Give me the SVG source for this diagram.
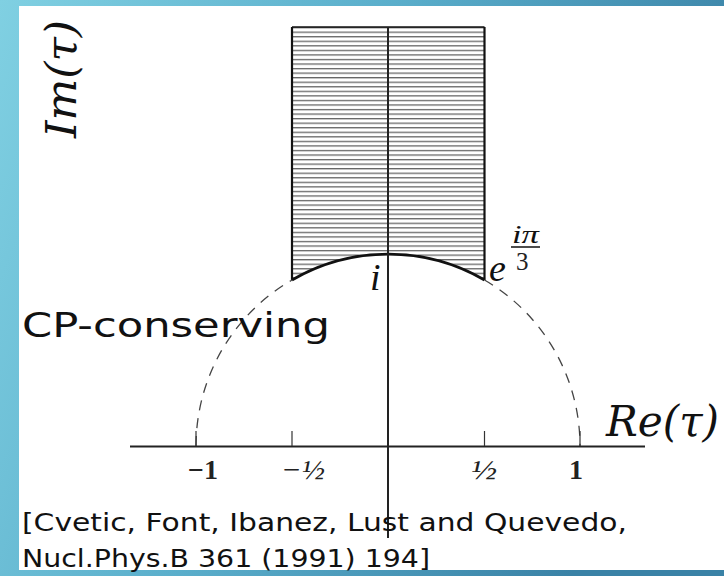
<svg xmlns="http://www.w3.org/2000/svg" width="724" height="576" viewBox="0 0 724 576">
<defs>
<linearGradient id="bg" x1="0" y1="0" x2="1" y2="0.3">
<stop offset="0" stop-color="#80d0e2"/>
<stop offset="0.5" stop-color="#5aaecb"/>
<stop offset="1" stop-color="#3a82a6"/>
</linearGradient>
<clipPath id="fd">
<path d="M292,27 H484.5 V280 A192,192 0 0 0 292,280 Z"/>
</clipPath>
<pattern id="hatch" x="0" y="27" width="10" height="4.55" patternUnits="userSpaceOnUse">
<rect x="0" y="0" width="10" height="1.3" fill="#666"/>
</pattern>
</defs>
<style>
.ax{stroke:#222;stroke-width:2;fill:none}
.tk{stroke:#333;stroke-width:1.2;fill:none}
.ds{stroke:#444;stroke-width:1.3;fill:none;stroke-dasharray:10 8}
.bd{stroke:#111;fill:none}
.cm{font-family:"DejaVu Serif","Liberation Serif",serif;font-style:italic;fill:#111}
.math{font-family:"Liberation Serif","DejaVu Serif",serif;font-style:italic;fill:#111}
.num{font-family:"Liberation Serif","DejaVu Serif",serif;fill:#222}
.cs{font-family:"DejaVu Sans","Liberation Sans",sans-serif;fill:#111}
</style>
<rect x="0" y="0" width="724" height="576" fill="url(#bg)"/>
<rect x="19" y="6" width="705" height="564" fill="#fff"/>

<g id="fundamental-domain">
<rect x="292" y="27" width="192.5" height="260" fill="url(#hatch)" clip-path="url(#fd)"/>
<line class="bd" x1="292" y1="27" x2="484.5" y2="27" stroke-width="1.5"/>
<line class="bd" x1="292" y1="27" x2="292" y2="280" stroke-width="2.2"/>
<line class="bd" x1="484.5" y1="27" x2="484.5" y2="280" stroke-width="2.2"/>
<path class="bd" d="M292,280 A192,192 0 0 1 484.5,280" stroke-width="2.8"/>
</g>

<g id="connectors">
<path class="ds" d="M196,446 A192,192 0 0 1 292,280"/>
<path class="ds" d="M484.5,280 A192,192 0 0 1 580,446"/>
<line class="ax" x1="130" y1="446.5" x2="645" y2="446.5"/>
<line class="ax" x1="388" y1="27" x2="388" y2="538"/>
<line class="tk" x1="196" y1="431" x2="196" y2="446"/>
<line class="tk" x1="292" y1="431" x2="292" y2="446"/>
<line class="tk" x1="484.5" y1="431" x2="484.5" y2="446"/>
<line class="tk" x1="580" y1="431" x2="580" y2="446"/>
</g>

<g id="labels">
<text class="cm" transform="translate(76,138) rotate(-90)" font-size="42" textLength="118" lengthAdjust="spacingAndGlyphs">Im(τ)</text>
<text class="cm" x="606" y="436" font-size="42" textLength="113" lengthAdjust="spacingAndGlyphs">Re(τ)</text>
<text class="math" x="370" y="290" font-size="38">i</text>
<text class="math" x="489" y="281" font-size="38">e</text>
<text class="math" x="512" y="243" font-size="25" textLength="27" lengthAdjust="spacingAndGlyphs">iπ</text>
<line x1="511" y1="247" x2="540" y2="247" stroke="#111" stroke-width="1.5"/>
<text class="num" x="516" y="270" font-size="25">3</text>
<text class="num" x="188" y="479" font-size="28" font-weight="bold">−1</text>
<text class="num" x="281" y="479" font-size="28" font-style="italic" textLength="44" lengthAdjust="spacingAndGlyphs">−½</text>
<text class="num" x="471" y="479" font-size="28" font-style="italic" textLength="26" lengthAdjust="spacingAndGlyphs">½</text>
<text class="num" x="569" y="479" font-size="28" font-weight="bold">1</text>
<text class="cs" x="22" y="337" font-size="34" textLength="308" lengthAdjust="spacingAndGlyphs">CP-conserving</text>
<text class="cs" x="22" y="531" font-size="25" textLength="605" lengthAdjust="spacingAndGlyphs">[Cvetic, Font, Ibanez, Lust and Quevedo,</text>
<text class="cs" x="22" y="567" font-size="25" textLength="408" lengthAdjust="spacingAndGlyphs">Nucl.Phys.B 361 (1991) 194]</text>
</g>
</svg>
